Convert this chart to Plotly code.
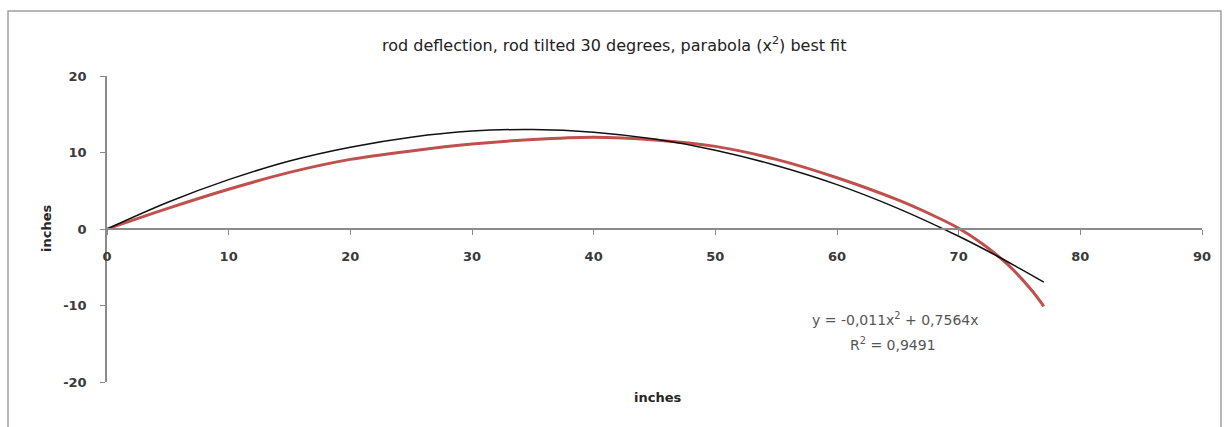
import plotly.graph_objects as go

# measured rod deflection (red)
data_x = [0, 5, 10, 15, 20, 25, 30, 35, 40, 45, 50, 55, 60, 65, 68, 70, 72, 74, 76, 77]
data_y = [0, 2.7, 5.2, 7.4, 9.1, 10.2, 11.1, 11.7, 12.0, 11.65, 10.8, 9.1, 6.7, 3.8, 1.7, 0.1, -2.0, -4.6, -8.0, -10.1]

# parabola best fit trendline (black)
fit_x = [0, 5, 10, 15, 20, 25, 30, 35, 40, 45, 50, 55, 60, 65, 70, 73, 75, 77]
fit_y = [0, 3.5, 6.45, 8.9, 10.7, 12.0, 12.8, 13.0, 12.65, 11.75, 10.3, 8.3, 5.8, 2.7, -0.95, -3.4, -5.15, -6.95]

x_ticks = [0, 10, 20, 30, 40, 50, 60, 70, 80, 90]
y_ticks = [-20, -10, 0, 10, 20]
y_tick_labels = ["-20", "-10", "0", "10", "20"]

title_text = "rod deflection, rod tilted 30 degrees, parabola (x<sup>2</sup>) best fit"
eq_line1 = "y = -0,011x<sup>2</sup> + 0,7564x"
eq_line2 = "R<sup>2</sup> = 0,9491"
axis_title = "inches"

FONT = "DejaVu Sans"
TICKCOL = "#3a3a3a"
AXCOL = "#8a8a8a"

fig = go.Figure()
fig.add_trace(go.Scatter(x=data_x, y=data_y, mode="lines",
                         line=dict(color="#C0504D", width=3, shape="spline", smoothing=0.8),
                         showlegend=False, hoverinfo="skip"))
fig.add_trace(go.Scatter(x=fit_x, y=fit_y, mode="lines",
                         line=dict(color="#111111", width=1.5, shape="spline"),
                         showlegend=False, hoverinfo="skip"))

fig.update_layout(
    width=1224, height=427,
    margin=dict(l=107, r=22, t=76, b=45),
    paper_bgcolor="white", plot_bgcolor="white",
    font=dict(family=FONT, color=TICKCOL),
    xaxis=dict(range=[0, 90], tickvals=x_ticks, showgrid=False, zeroline=False,
               showline=True, linecolor=AXCOL, linewidth=1.5,
               ticks="outside", ticklen=5, tickcolor=AXCOL, tickwidth=1,
               anchor="free", position=0.5, ticklabelstandoff=11,
               tickfont=dict(family=FONT, size=13, color=TICKCOL, weight="bold")),
    yaxis=dict(range=[-20, 20], tickvals=y_ticks, ticktext=y_tick_labels,
               showgrid=False, zeroline=False,
               showline=True, linecolor=AXCOL, linewidth=1.5,
               ticks="outside", ticklen=5, tickcolor=AXCOL, tickwidth=1,
               ticklabelstandoff=11,
               tickfont=dict(family=FONT, size=13, color=TICKCOL, weight="bold")),
    shapes=[dict(type="rect", xref="paper", yref="paper",
                 x0=(8 - 107) / 1095, x1=(1221 - 107) / 1095,
                 y0=(382 - 440) / 306, y1=(382 - 11) / 306,
                 line=dict(color="#a0a0a0", width=1.5), layer="below")],
    annotations=[
        dict(text=title_text, xref="paper", yref="paper",
             x=(614 - 107) / 1095, y=(382 - 45) / 306, showarrow=False,
             xanchor="center", yanchor="middle",
             font=dict(family=FONT, size=16, color="#222222")),
        dict(text=axis_title, xref="paper", yref="paper",
             x=(657 - 107) / 1095, y=(382 - 397) / 306, showarrow=False,
             xanchor="center", yanchor="middle",
             font=dict(family=FONT, size=13, color="#262626", weight="bold")),
        dict(text=axis_title, xref="paper", yref="paper",
             x=(46 - 107) / 1095, y=(382 - 229) / 306, showarrow=False,
             textangle=-90, xanchor="center", yanchor="middle",
             font=dict(family=FONT, size=13, color="#262626", weight="bold")),
        dict(text=eq_line1, xref="paper", yref="paper",
             x=(895 - 107) / 1095, y=(382 - 319) / 306, showarrow=False,
             xanchor="center", yanchor="middle",
             font=dict(family=FONT, size=14, color="#555555")),
        dict(text=eq_line2, xref="paper", yref="paper",
             x=(893 - 107) / 1095, y=(382 - 344) / 306, showarrow=False,
             xanchor="center", yanchor="middle",
             font=dict(family=FONT, size=14, color="#555555")),
    ],
)

fig.write_html("out.html")
